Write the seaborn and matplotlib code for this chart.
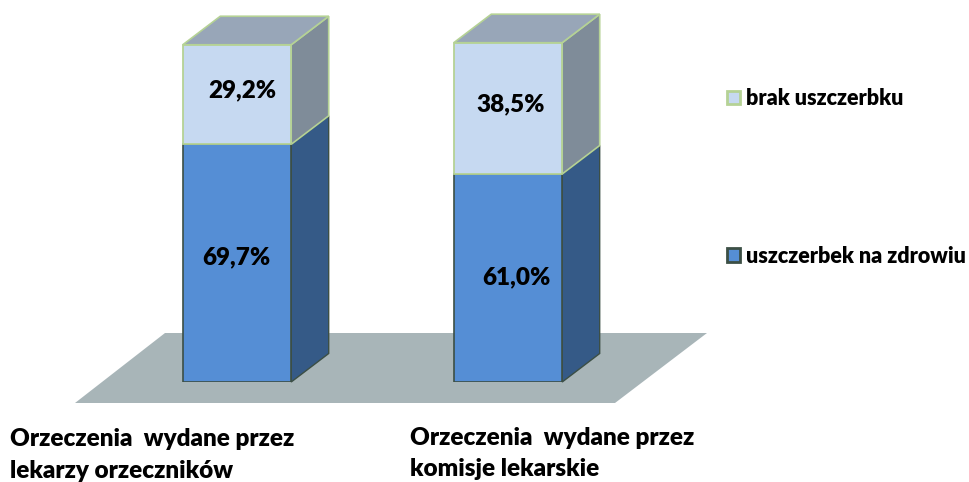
import matplotlib
matplotlib.use("Agg")
import matplotlib.pyplot as plt
import seaborn as sns
import pandas as pd
from matplotlib.patches import Polygon
from matplotlib.transforms import ScaledTranslation, Affine2D

categories = ["Orzeczenia  wydane przez\nlekarzy orzeczników",
              "Orzeczenia  wydane przez\nkomisje lekarskie"]
uszczerbek = [69.7, 61.0]
brak = [29.2, 38.5]
labels_bottom = ["69,7%", "61,0%"]
labels_top = ["29,2%", "38,5%"]
series_names = ["uszczerbek na zdrowiu", "brak uszczerbku"]

W, H = 969, 482
sns.set_theme(style="white")
plt.rcParams["font.family"] = ["Lato", "DejaVu Sans"]
WEIGHT = 800

BLUE, BLUE_SIDE = "#558ED5", "#355A87"
LIGHT, LIGHT_SIDE, LIGHT_TOP = "#C6D9F1", "#7F8C99", "#98A6B8"
EDGE_L, EDGE_D = "#B5D295", "#3C4F45"
FLOOR = "#A8B5B8"

fig = plt.figure(figsize=(W / 100, H / 100), dpi=100)
ax = fig.add_axes([0, (H - 382) / H, 1, 382 / H])

df = pd.DataFrame({"cat": categories, "a": uszczerbek, "b": brak})
sns.barplot(data=df, x="cat", y="a", ax=ax, color=BLUE, saturation=1, width=0.4,
            edgecolor=EDGE_D, linewidth=1.2, zorder=3, label=series_names[0])
sns.barplot(data=df, x="cat", y="b", ax=ax, bottom=df["a"], color=LIGHT, saturation=1,
            width=0.4, edgecolor=EDGE_L, linewidth=1.3, zorder=4, label=series_names[1])

ax.set_xlim(-237 / 271, (W - 237) / 271)
ax.set_ylim(0, 382 / 3.41)
ax.set_xlabel("")
ax.set_ylabel("")
ax.set_yticks([])
ax.set_xticks([0, 1], categories)
for s in ax.spines.values():
    s.set_visible(False)
ax.tick_params(axis="x", length=0, pad=0)

# pixel-space transform (origin top-left of the figure)
px = Affine2D().scale(1, -1).translate(0, H)
floor_px = [(75, 403), (615, 403), (707, 333), (165, 333)]
ax.add_patch(Polygon(floor_px, closed=True, transform=px, facecolor=FLOOR,
                     edgecolor="none", clip_on=False, zorder=1))

# 3D extrusion of each bar, derived from the values through the data scale
DX, DY = 37.5 / 271, 28.5 / 3.41
HW = 0.2
for i, (a, b) in enumerate(zip(uszczerbek, brak)):
    r = i + HW
    ax.add_patch(Polygon([(r, 0), (r + DX, DY), (r + DX, a + DY), (r, a)], closed=True,
                         facecolor=BLUE_SIDE, edgecolor=EDGE_D, lw=1.0, zorder=2.5, clip_on=False))
    ax.add_patch(Polygon([(r, a), (r + DX, a + DY), (r + DX, a + b + DY), (r, a + b)], closed=True,
                         facecolor=LIGHT_SIDE, edgecolor=EDGE_L, lw=1.2, zorder=2.6, clip_on=False))
    ax.add_patch(Polygon([(i - HW, a + b), (i - HW + DX, a + b + DY), (r + DX, a + b + DY), (r, a + b)],
                         closed=True, facecolor=LIGHT_TOP, edgecolor=EDGE_L, lw=1.2, zorder=2.6, clip_on=False))

# value labels
offs_bottom = [(-1, 6), (8, 1)]
offs_top = [(5, 4), (3, 4)]
for i, (a, b) in enumerate(zip(uszczerbek, brak)):
    ax.annotate(labels_bottom[i], (i, a / 2), xytext=(offs_bottom[i][0] * .72, offs_bottom[i][1] * .72),
                textcoords="offset points", ha="center", va="center", fontsize=17.5,
                fontweight=WEIGHT, color="black", zorder=6)
    ax.annotate(labels_top[i], (i, a + b / 2), xytext=(offs_top[i][0] * .72, offs_top[i][1] * .72),
                textcoords="offset points", ha="center", va="center", fontsize=17.5,
                fontweight=WEIGHT, color="black", zorder=6)

# category labels: left aligned under the bars
tick_offsets = [(10 - 237, -46.5), (410 - 508, -45)]
for t, (dx, dy) in zip(ax.get_xticklabels(), tick_offsets):
    t.set_ha("left")
    t.set_va("top")
    t.set_multialignment("left")
    t.set_fontsize(17.5)
    t.set_fontweight(WEIGHT)
    t.set_color("black")
    t.set_linespacing(1.5)
    t.set_transform(t.get_transform() + ScaledTranslation(dx / 100, dy / 100, fig.dpi_scale_trans))

# legend
handles, lbls = ax.get_legend_handles_labels()
order = [lbls.index(series_names[1]), lbls.index(series_names[0])]
leg = ax.legend([handles[k] for k in order], [lbls[k] for k in order],
                loc="upper left", bbox_to_anchor=(727 / W, (382 - 88) / 382),
                frameon=False, fontsize=15.5, labelspacing=6.35,
                handlelength=0.6, handleheight=0.6, handletextpad=0.3,
                borderpad=0, borderaxespad=0)
leg.set_zorder(7)
for txt in leg.get_texts():
    txt.set_fontweight(WEIGHT)
    txt.set_color("black")
for h in leg.legend_handles:
    h.set_linewidth(2)

fig.savefig("out.png", dpi=100, facecolor="white")
